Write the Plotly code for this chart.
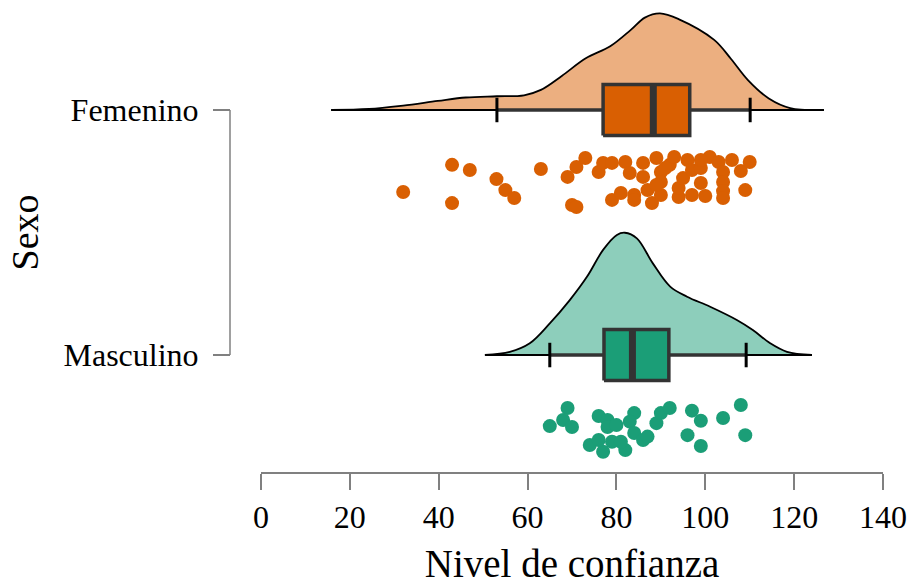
import plotly.graph_objects as go

# ---------------- data ----------------
groups = ["Masculino", "Femenino"]          # y positions 0 and 1
tick_x = [0, 20, 40, 60, 80, 100, 120, 140]

# Femenino raw scores and vertical jitter (fraction of a category step below the group line)
fem_vals = [32, 43, 47, 43, 53, 55, 57, 63, 69, 71, 73, 70, 71, 76, 77, 79, 82, 83,
            79, 81, 84, 86, 87, 88, 89, 90, 92, 93, 90, 94, 94, 95, 96, 97, 99, 99,
            100, 101, 103, 104, 104, 104, 104, 106, 108, 110, 109, 90, 86, 84, 89, 97,
            99, 91]
fem_jit = [0.335, 0.224, 0.245, 0.380, 0.282, 0.327, 0.359, 0.241, 0.273, 0.233, 0.196,
           0.388, 0.396, 0.253, 0.216, 0.216, 0.212, 0.257, 0.367, 0.339, 0.347, 0.273,
           0.327, 0.380, 0.196, 0.253, 0.224, 0.192, 0.294, 0.355, 0.318, 0.278, 0.204,
           0.245, 0.237, 0.298, 0.351, 0.192, 0.212, 0.253, 0.294, 0.331, 0.359, 0.204,
           0.249, 0.212, 0.327, 0.347, 0.216, 0.367, 0.306, 0.347, 0.204, 0.237]

masc_vals = [65, 69, 68, 70, 76, 78, 78, 80, 79, 74, 77, 76, 82, 81, 84, 83, 84, 86,
             87, 89, 90, 92, 97, 99, 96, 99, 104, 108, 109]
masc_jit = [0.290, 0.216, 0.265, 0.294, 0.249, 0.265, 0.294, 0.286, 0.354, 0.367, 0.395,
            0.347, 0.388, 0.354, 0.237, 0.272, 0.318, 0.347, 0.333, 0.278, 0.237, 0.216,
            0.227, 0.268, 0.327, 0.371, 0.257, 0.204, 0.327]

# density curves (x value, height in category units)
fem_dx = [15.8, 24.3, 32.0, 39.8, 46.1, 53.1, 59.2, 63.0, 67.7, 73.1, 78.6, 83.3, 86.4,
          89.8, 94.1, 102.0, 105.8, 109.6, 114.3, 119.1, 126.7]
fem_dh = [0.0, 0.004, 0.018, 0.037, 0.051, 0.056, 0.060, 0.082, 0.139, 0.211, 0.260,
          0.328, 0.377, 0.394, 0.370, 0.286, 0.208, 0.122, 0.047, 0.008, 0.0]
masc_dx = [50.4, 56.0, 60.5, 65.0, 69.5, 73.4, 77.0, 80.1, 81.9, 84.6, 88.2, 92.1, 95.9,
           101.1, 107.1, 110.7, 114.6, 118.4, 124.0]
masc_dh = [0.0, 0.013, 0.048, 0.129, 0.224, 0.320, 0.429, 0.490, 0.499, 0.476, 0.374,
           0.279, 0.238, 0.197, 0.143, 0.102, 0.048, 0.013, 0.0]

# box statistics: [Masculino, Femenino]
q1 = [77.2, 77.0]
med = [83.6, 88.3]
q3 = [91.8, 96.5]
lo = [65.0, 53.1]
hi = [109.2, 110.1]

# ---------------- styling ----------------
FONT = "Liberation Serif"
dark_col = ["#1B9E77", "#D95F02"]
light_col = ["#8DCEBB", "#ECAF80"]
HB = 0.104      # half box height (category units)
HC = 0.05       # half whisker-cap height
AXC = "#808080"

fig = go.Figure()

dens = [(masc_dx, masc_dh), (fem_dx, fem_dh)]
pts = [(masc_vals, masc_jit), (fem_vals, fem_jit)]

for i in range(2):
    dx, dh = dens[i]
    # density "cloud": baseline, then curve filled down to it
    fig.add_trace(go.Scatter(x=dx, y=[i] * len(dx), mode="lines",
                             line=dict(color="black", width=1.8),
                             hoverinfo="skip", showlegend=False))
    fig.add_trace(go.Scatter(x=dx, y=[i + h for h in dh], mode="lines",
                             line=dict(color="black", width=1.8, shape="spline", smoothing=1.0),
                             fill="tonexty", fillcolor=light_col[i],
                             hoverinfo="skip", showlegend=False))

for i in range(2):
    # whiskers
    fig.add_trace(go.Scatter(x=[lo[i], q1[i], None, q3[i], hi[i]], y=[i, i, None, i, i],
                             mode="lines", line=dict(color="#333333", width=3.5),
                             hoverinfo="skip", showlegend=False))
    for w in (lo[i], hi[i]):
        fig.add_trace(go.Scatter(x=[w, w], y=[i - HC, i + HC], mode="lines",
                                 line=dict(color="black", width=3),
                                 hoverinfo="skip", showlegend=False))
    # box
    fig.add_trace(go.Scatter(x=[q1[i], q3[i], q3[i], q1[i], q1[i]],
                             y=[i - HB, i - HB, i + HB, i + HB, i - HB],
                             mode="lines", fill="toself", fillcolor=dark_col[i],
                             line=dict(color="#333333", width=3.5),
                             hoverinfo="skip", showlegend=False))
    # thick median line
    fig.add_trace(go.Scatter(x=[med[i], med[i]], y=[i - HB, i + HB],
                             mode="lines", line=dict(color="#333333", width=7),
                             hoverinfo="skip", showlegend=False))

for i in range(2):
    v, j = pts[i]
    fig.add_trace(go.Scatter(x=v, y=[i - jj for jj in j], mode="markers",
                             marker=dict(size=14, color=dark_col[i], line=dict(width=0)),
                             cliponaxis=False, hoverinfo="skip", showlegend=False))

# y axis line only between the two categories
fig.add_shape(type="line", xref="paper", yref="y", x0=0, x1=0, y0=0, y1=1,
              line=dict(color=AXC, width=1.5))

fig.update_layout(
    width=910, height=585,
    margin=dict(l=230, r=27, t=10, b=112, autoexpand=False),
    paper_bgcolor="white", plot_bgcolor="white",
    showlegend=False,
    font=dict(family=FONT, color="black"),
    xaxis=dict(range=[0, 140], domain=[31 / 653, 1], anchor="free", position=0,
               automargin=False,
               tickvals=tick_x, ticktext=[str(t) for t in tick_x],
               ticks="outside", ticklen=16, tickwidth=1.5, tickcolor=AXC,
               showline=True, linecolor=AXC, linewidth=1.5,
               showgrid=False, zeroline=False, ticklabelstandoff=0,
               tickfont=dict(family=FONT, size=32, color="black"),
               title=dict(text="Nivel de confianza", font=dict(family=FONT, size=39, color="black"),
                          standoff=20)),
    yaxis=dict(range=[-0.408, 1.408], domain=[18 / 463, 1], anchor="free", position=0,
               automargin=False,
               tickvals=[0, 1], ticktext=groups,
               ticks="outside", ticklen=17, tickwidth=1.5, tickcolor=AXC,
               showline=False, showgrid=False, zeroline=False, ticklabelstandoff=8,
               tickfont=dict(family=FONT, size=32, color="black"),
               title=dict(text="Sexo", font=dict(family=FONT, size=38, color="black"),
                          standoff=12)),
)

fig.write_html("out.html", config={"displayModeBar": False},
               post_script="document.body.style.margin='0';document.body.style.overflow='hidden';")
